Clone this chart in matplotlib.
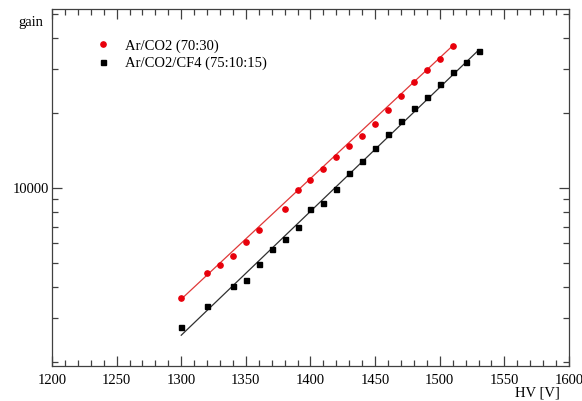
import matplotlib
matplotlib.use("Agg")
import matplotlib.pyplot as plt
from matplotlib.ticker import MultipleLocator, FixedLocator, FixedFormatter, NullFormatter, LogLocator

plt.rcParams['font.family'] = ['Liberation Serif', 'DejaVu Serif']

# データ
hv_ar_co2 = [1300, 1320, 1330, 1340, 1350, 1360, 1380, 1390, 1400, 1410,
             1420, 1430, 1440, 1450, 1460, 1470, 1480, 1490, 1500, 1510]
gain_ar_co2 = [3610, 4540, 4890, 5330, 6070, 6800, 8210, 9820, 10740, 11890,
               13280, 14740, 16130, 18120, 20570, 23420, 26580, 29700, 32880, 37080]

hv_ar_co2_cf4 = [1300, 1320, 1340, 1350, 1360, 1370, 1380, 1390, 1400, 1410, 1420,
                 1430, 1440, 1450, 1460, 1470, 1480, 1490, 1500, 1510, 1520, 1530]
gain_ar_co2_cf4 = [2770, 3370, 4030, 4260, 4970, 5700, 6260, 6990, 8240, 8730, 9910,
                   11460, 12800, 14480, 16520, 18530, 20960, 23140, 26170, 29150, 32150, 35400]

# フィット直線の端点
fit_x_ar_co2 = [1300, 1510]
fit_y_ar_co2 = [3580, 37300]
fit_x_ar_co2_cf4 = [1300, 1530]
fit_y_ar_co2_cf4 = [2565, 35800]

fs = 10.5

fig = plt.figure(figsize=(5.82, 4.01), dpi=100)
ax = fig.add_axes([0.0893, 0.0873, 0.8884, 0.8903])

ax.set_yscale('log')
ax.plot(fit_x_ar_co2, fit_y_ar_co2, color='#e03838', lw=0.9, zorder=2)
ax.plot(fit_x_ar_co2_cf4, fit_y_ar_co2_cf4, color='#303030', lw=0.9, zorder=2)
ax.plot(hv_ar_co2, gain_ar_co2, 'o', color='#e8000b', ms=3.8, mec='#e8000b',
        label='Ar/CO2 (70:30)', zorder=3)
ax.plot(hv_ar_co2_cf4, gain_ar_co2_cf4, 's', color='black', ms=3.6,
        label='Ar/CO2/CF4 (75:10:15)', zorder=3)

ax.set_xlim(1200, 1600)
ax.set_ylim(1930, 52400)

ax.xaxis.set_major_locator(MultipleLocator(50))
ax.xaxis.set_minor_locator(MultipleLocator(10))
ax.yaxis.set_major_locator(FixedLocator([10000]))
ax.yaxis.set_major_formatter(FixedFormatter(['10000']))
ax.yaxis.set_minor_locator(LogLocator(base=10, subs=range(2, 10)))
ax.yaxis.set_minor_formatter(NullFormatter())

ax.tick_params(which='both', direction='in', top=True, right=True,
               colors='#404040', labelcolor='black', labelsize=fs)
ax.tick_params(which='major', length=7, width=0.9)
ax.tick_params(which='minor', length=4, width=0.9)
ax.tick_params(axis='y', pad=2)
ax.tick_params(axis='x', pad=6)
for s in ax.spines.values():
    s.set_color('#404040')
    s.set_linewidth(0.9)

ax.legend(loc='upper left', bbox_to_anchor=(0.0704, 0.932), frameon=False,
          fontsize=fs, handletextpad=0.9, borderaxespad=0, labelspacing=0.3,
          handlelength=1.2)

fig.text(0.031, 0.945, 'gain', fontsize=fs, ha='left', va='center')
fig.text(0.962, 0.02, 'HV [V]', fontsize=fs, ha='right', va='center')

fig.savefig('out.png', dpi=100)
